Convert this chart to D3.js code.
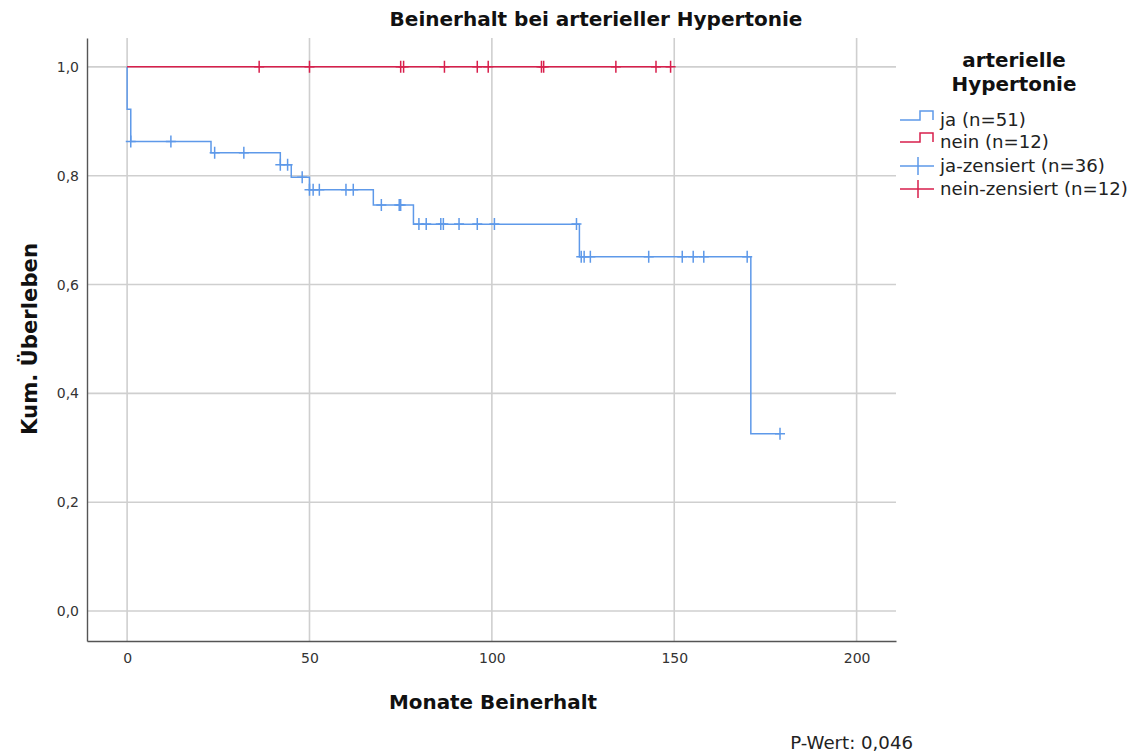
<!DOCTYPE html>
<html>
<head>
<meta charset="utf-8">
<script src="https://cdn.jsdelivr.net/npm/d3@7"></script>
<style>
  html, body { margin: 0; padding: 0; background: #fff; }
  svg { display: block; }
  text { font-family: "DejaVu Sans", "Open Sans", sans-serif; fill: #111; }
</style>
</head>
<body>
<svg id="chart" width="1134" height="756"></svg>
<script>
// Kaplan-Meier step values (time in months, cumulative survival) per group
const jaSteps = [[0, 1.0], [0, 0.922], [1, 0.863], [23, 0.842], [42, 0.820], [45, 0.797],
                 [50, 0.774], [67.5, 0.746], [78.5, 0.711], [124, 0.651], [171, 0.326]];
const jaEnd = 179;
const jaCensored = [1, 12, 24, 32, 42, 44, 48, 50, 51, 52.7, 60, 62, 69.7, 74.6, 75, 80, 82,
                    86, 86.7, 91, 96, 100.7, 123.2, 124.5, 125.3, 127, 143, 152.2, 155.2, 158.1, 170, 179];

const neinSteps = [[0, 1.0]];
const neinEnd = 149;
const neinCensored = [36.2, 50, 75, 75.8, 87, 96, 99, 113.6, 114.2, 134, 145, 149];

const xTicks = [0, 50, 100, 150, 200];
const yTicks = [0, 0.2, 0.4, 0.6, 0.8, 1.0];
const legendItems = ["ja (n=51)", "nein (n=12)", "ja-zensiert (n=36)", "nein-zensiert (n=12)"];

const blue = "#5e99e9";
const red = "#d81f4c";
const grid = "#cfcfcf";

const svg = d3.select("#chart");
const plot = { left: 87, right: 896, top: 38, bottom: 641 };

const x = d3.scaleLinear().domain([-11, 210.8]).range([plot.left, plot.right]);
const y = d3.scaleLinear().domain([-0.055, 1.053]).range([plot.bottom, plot.top]);

// scale a text element's font size so that it spans the given width
function fitWidth(sel, width) {
  const node = sel.node();
  const base = parseFloat(sel.style("font-size"));
  const w = node.getComputedTextLength();
  sel.style("font-size", (base * width / w).toFixed(2) + "px");
  return sel;
}

// gridlines
const g = svg.append("g");
g.selectAll(".vgrid").data(xTicks).join("line")
  .attr("x1", d => x(d)).attr("x2", d => x(d))
  .attr("y1", plot.top).attr("y2", plot.bottom)
  .attr("stroke", grid).attr("stroke-width", 1.6);
g.selectAll(".hgrid").data(yTicks).join("line")
  .attr("x1", plot.left).attr("x2", plot.right)
  .attr("y1", d => y(d)).attr("y2", d => y(d))
  .attr("stroke", grid).attr("stroke-width", 1.6);

// axes
const xAxis = d3.axisBottom(x).tickValues(xTicks).tickSize(0).tickPadding(12)
  .tickFormat(d3.format("d"));
const yAxis = d3.axisLeft(y).tickValues(yTicks).tickSize(0).tickPadding(8)
  .tickFormat(d => d3.format(".1f")(d).replace(".", ","));

const xa = svg.append("g").attr("transform", `translate(0,${plot.bottom})`).call(xAxis);
const ya = svg.append("g").attr("transform", `translate(${plot.left},0)`).call(yAxis);
[xa, ya].forEach(a => {
  a.select(".domain").attr("stroke", "#555").attr("stroke-width", 1.4);
  a.selectAll("text").style("font-size", "14px").style("fill", "#333")
    .style("font-family", "'DejaVu Sans', sans-serif");
});

// step curves
const line = d3.line().x(d => x(d[0])).y(d => y(d[1])).curve(d3.curveStepAfter);
function survAt(steps, t) {
  let s = steps[0][1];
  for (const [tt, v] of steps) if (tt <= t) s = v;
  return s;
}
function drawGroup(steps, end, cens, color) {
  const pts = steps.concat([[end, steps[steps.length - 1][1]]]);
  svg.append("path").attr("d", line(pts))
    .attr("fill", "none").attr("stroke", color).attr("stroke-width", 1.5);
  const cg = svg.append("g");
  cens.forEach(t => {
    const cx = x(t), cy = y(survAt(steps, t));
    cg.append("path")
      .attr("d", `M${cx},${cy - 6}V${cy + 6}M${cx - 5},${cy}H${cx + 5}`)
      .attr("stroke", color).attr("stroke-width", 1.5).attr("fill", "none");
  });
}
drawGroup(jaSteps, jaEnd, jaCensored, blue);
drawGroup(neinSteps, neinEnd, neinCensored, red);

// title and axis labels
fitWidth(svg.append("text").attr("x", 596).attr("y", 26).attr("text-anchor", "middle")
  .style("font-size", "18px").style("font-weight", "700")
  .text("Beinerhalt bei arterieller Hypertonie"), 413);
fitWidth(svg.append("text").attr("x", 493).attr("y", 709).attr("text-anchor", "middle")
  .style("font-size", "20px").style("font-weight", "700")
  .text("Monate Beinerhalt"), 208);
fitWidth(svg.append("text").attr("transform", "translate(37,339) rotate(-90)")
  .attr("text-anchor", "middle")
  .style("font-size", "20px").style("font-weight", "700")
  .text("Kum. Überleben"), 192);
fitWidth(svg.append("text").attr("x", 913).attr("y", 749).attr("text-anchor", "end")
  .style("font-size", "15px").style("fill", "#222")
  .text("P-Wert: 0,046"), 123);

// legend
const lg = svg.append("g");
const lt1 = lg.append("text").attr("x", 1014).attr("y", 67).attr("text-anchor", "middle")
  .style("font-size", "19px").style("font-weight", "700").text("arterielle");
const lt2 = lg.append("text").attr("x", 1014).attr("y", 91).attr("text-anchor", "middle")
  .style("font-size", "19px").style("font-weight", "700").text("Hypertonie");
fitWidth(lt2, 125);
lt1.style("font-size", lt2.style("font-size"));

const legendY = [120, 142, 166, 189];
const legendColors = [blue, red, blue, red];
const labels = [];
legendItems.forEach((label, i) => {
  const cy = legendY[i], col = legendColors[i];
  if (i < 2) {
    lg.append("path")
      .attr("d", `M900,${cy}H920V${cy - 9}H933V${cy}`)
      .attr("fill", "none").attr("stroke", col).attr("stroke-width", 1.5);
  } else {
    lg.append("path")
      .attr("d", `M900,${cy}H934M918,${cy - 9}V${cy + 9}`)
      .attr("fill", "none").attr("stroke", col).attr("stroke-width", 1.5);
  }
  labels.push(lg.append("text").attr("x", 940).attr("y", cy + 6)
    .style("font-size", "16px").style("fill", "#222").text(label));
});
fitWidth(labels[3], 188);
labels.forEach(l => l.style("font-size", labels[3].style("font-size")));
</script>
</body>
</html>
